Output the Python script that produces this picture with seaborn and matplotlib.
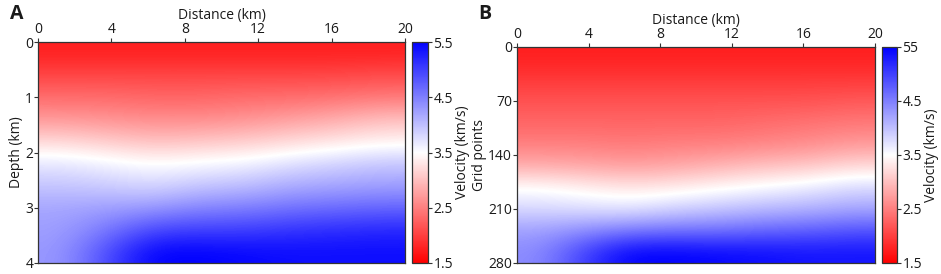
import numpy as np
import matplotlib.pyplot as plt
import seaborn as sns

sns.set_style("ticks")
plt.rcParams["font.family"] = ["Open Sans", "DejaVu Sans"]
plt.rcParams["text.color"] = "#1a1a1a"
plt.rcParams["axes.labelcolor"] = "#1a1a1a"
plt.rcParams["xtick.labelcolor"] = "#1a1a1a"
plt.rcParams["ytick.labelcolor"] = "#1a1a1a"

distance_ticks = [0, 4, 8, 12, 16, 20]
depth_ticks = [0, 1, 2, 3, 4]
grid_ticks = [0, 70, 140, 210, 280]
cbar_ticks = [1.5, 2.5, 3.5, 4.5, 5.5]
cbar_labels_a = ["1.5", "2.5", "3.5", "4.5", "5.5"]
cbar_labels_b = ["1.5", "2.5", "3.5", "4.5", "55"]

# velocity (km/s): rows = depth cells (top -> bottom),
# columns = distance cells (left -> right)
vel_a = [
    [1.75, 1.75, 1.75, 1.75, 1.75, 1.75, 1.75, 1.75],
    [2.05, 2.05, 2.05, 2.05, 2.05, 2.05, 2.05, 2.10],
    [2.35, 2.35, 2.30, 2.30, 2.35, 2.35, 2.40, 2.45],
    [2.70, 2.65, 2.60, 2.60, 2.65, 2.75, 2.85, 3.00],
    [3.20, 3.10, 3.00, 3.05, 3.10, 3.20, 3.30, 3.40],
    [3.70, 3.60, 3.50, 3.55, 3.60, 3.75, 3.85, 3.95],
    [3.95, 3.90, 3.80, 3.95, 4.00, 4.15, 4.20, 4.25],
    [4.20, 4.25, 4.30, 4.45, 4.50, 4.60, 4.65, 4.70],
    [4.25, 4.55, 4.95, 5.00, 5.00, 5.10, 5.15, 5.20],
    [4.30, 4.90, 5.50, 5.50, 5.45, 5.40, 5.40, 5.40],
]
vel_b = [
    [1.75, 1.75, 1.75, 1.75, 1.75, 1.75, 1.75, 1.75],
    [1.95, 1.95, 1.95, 1.95, 1.95, 1.95, 1.95, 1.95],
    [2.15, 2.15, 2.15, 2.15, 2.15, 2.15, 2.15, 2.20],
    [2.30, 2.30, 2.30, 2.30, 2.30, 2.35, 2.40, 2.45],
    [2.50, 2.50, 2.45, 2.50, 2.50, 2.55, 2.60, 2.70],
    [2.85, 2.80, 2.75, 2.80, 2.90, 3.00, 3.05, 3.20],
    [3.50, 3.40, 3.30, 3.35, 3.45, 3.55, 3.65, 3.80],
    [3.80, 3.75, 3.70, 3.85, 3.95, 4.05, 4.10, 4.20],
    [4.25, 4.40, 4.55, 4.60, 4.60, 4.70, 4.75, 4.85],
    [4.40, 5.00, 5.50, 5.50, 5.45, 5.40, 5.35, 5.35],
]

cmap = sns.blend_palette(["#ff0000", "#ffffff", "#0000ff"], as_cmap=True)
fs = 10
edge = "#333333"

fig = plt.figure(figsize=(9.41, 2.74), dpi=100)
W, H = 941, 274


def box(x0, y0, x1, y1):
    return [x0 / W, 1 - y1 / H, (x1 - x0) / W, (y1 - y0) / H]


ax_a = fig.add_axes(box(38, 42, 405, 263))
cax_a = fig.add_axes(box(412, 42, 428, 263))
ax_b = fig.add_axes(box(517, 47, 875, 263))
cax_b = fig.add_axes(box(882, 47, 897, 263))

panels = [
    (ax_a, cax_a, vel_a, 4, depth_ticks, "Depth (km)", cbar_labels_a),
    (ax_b, cax_b, vel_b, 280, grid_ticks, "Grid points", cbar_labels_b),
]

for ax, cax, vel, zmax, yticks, ylabel, clabels in panels:
    im = ax.imshow(np.array(vel), cmap=cmap, vmin=1.5, vmax=5.5, aspect="auto",
                   interpolation="bicubic", extent=[0, 20, zmax, 0])
    ax.set_xlim(0, 20)
    ax.set_ylim(zmax, 0)
    ax.xaxis.tick_top()
    ax.xaxis.set_label_position("top")
    ax.set_xticks(distance_ticks)
    ax.set_yticks(yticks)
    ax.set_xlabel("Distance (km)", fontsize=fs, labelpad=2)
    ax.set_ylabel(ylabel, fontsize=fs, labelpad=1)
    ax.tick_params(labelsize=fs, length=3, width=0.8, pad=0.5, color=edge)
    for s in ax.spines.values():
        s.set_color(edge)
        s.set_linewidth(0.9)
        s.set_visible(True)

    cb = fig.colorbar(im, cax=cax)
    cb.set_ticks(cbar_ticks)
    cb.set_ticklabels(clabels)
    cb.ax.tick_params(labelsize=fs, length=3, width=0.8, pad=1, color=edge)
    cb.outline.set_edgecolor(edge)
    cb.outline.set_linewidth(0.9)

cax_a.set_ylabel("Velocity (km/s)", fontsize=fs, labelpad=1)
cax_b.set_ylabel("Velocity (km/s)", fontsize=fs, labelpad=1)

fig.text(10 / W, 1 - 14 / H, "A", fontsize=14, fontweight="bold", va="center")
fig.text(478 / W, 1 - 14 / H, "B", fontsize=14, fontweight="bold", va="center")

fig.savefig("out.png", dpi=100)
